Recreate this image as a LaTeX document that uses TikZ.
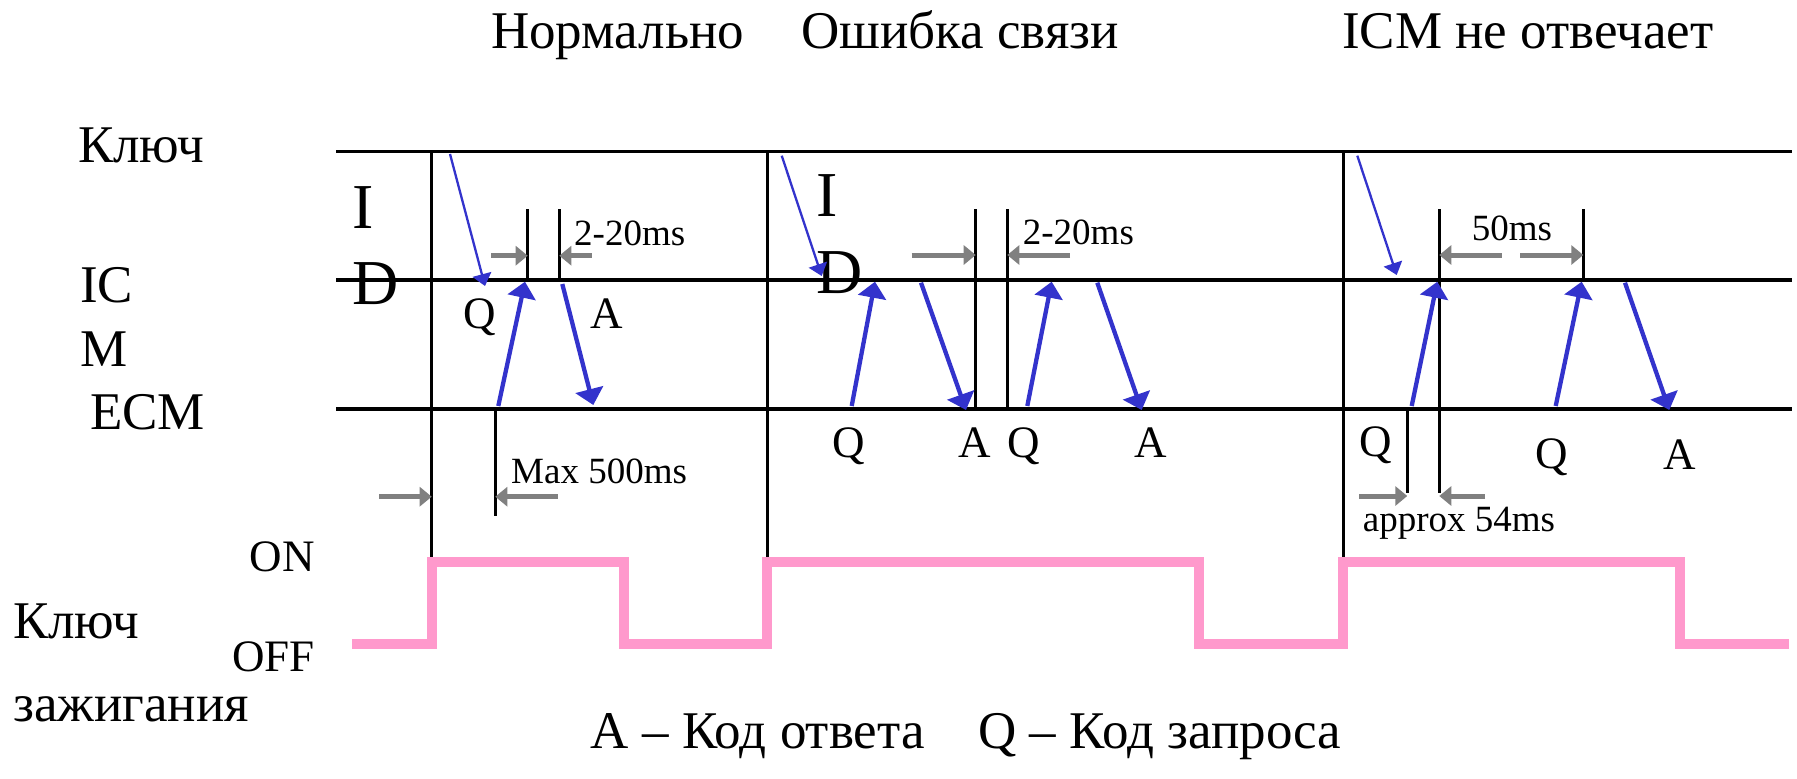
\documentclass[tikz,border=0pt]{standalone}
\usepackage{fontspec}
\setmainfont{Liberation Serif}
\usetikzlibrary{arrows.meta}
\definecolor{arrblue}{RGB}{51,51,204}
\definecolor{keypink}{RGB}{255,153,204}
\definecolor{dimgray}{RGB}{128,128,128}
\tikzset{
  gridline/.style={line width=3.2pt, black},
  tickline/.style={line width=2.7pt, black},
  thinarrow/.style={draw=arrblue, line width=2.3pt, -{Triangle[length=12pt,width=19pt,fill=arrblue]}},
  thickarrow/.style={draw=arrblue, line width=4.3pt, -{Triangle[length=16pt,width=28pt,fill=arrblue]}},
  dimarrow/.style={draw=dimgray, line width=5pt, -{Triangle[length=12pt,width=19pt,fill=dimgray]}},
  pinkwave/.style={draw=keypink, line width=10pt, line join=miter},
  lbl/.style={inner sep=0pt, font=\fontsize{53}{60}\selectfont},
  qa/.style={inner sep=0pt, font=\fontsize{45}{50}\selectfont},
  mslbl/.style={inner sep=0pt, font=\fontsize{37}{44}\selectfont},
  bigl/.style={inner sep=0pt, font=\fontsize{64}{70}\selectfont},
}
\begin{document}
\begin{tikzpicture}[x=1pt,y=-1pt]
\useasboundingbox[fill=white] (0,0) rectangle (1797,779);

% titles
\node[lbl,anchor=base west] (t1) at (491,48) {Нормально};
\node[lbl,anchor=base west] (t2) at (801,48) {Ошибка связи};
\node[lbl,anchor=base west] (t3) at (1342,48) {ICM не отвечает};

% left labels
\node[lbl,anchor=base west] (lk) at (78,162) {Ключ};
\node[lbl,anchor=base west] (lic) at (80,302.7) {IC};
\node[lbl,anchor=base west] (lm) at (80,366.7) {M};
\node[lbl,anchor=base west] (lecm) at (90,429.3) {ECM};
\node[qa,anchor=base east] (lon) at (315,571.7) {ON};
\node[qa,anchor=base east] (loff) at (315,671.7) {OFF};
\node[lbl,anchor=base west] (lk2) at (13,638.3) {Ключ};
\node[lbl,anchor=base west] (lzh) at (13,721.7) {зажигания};

% horizontal lanes
\coordinate (kL) at (336,151.7);  \coordinate (kR) at (1792,151.7);
\coordinate (iL) at (336,280);    \coordinate (iR) at (1792,280);
\coordinate (eL) at (336,409);    \coordinate (eR) at (1792,409);
\draw[gridline] (kL) -- (kR);
\draw[gridline] (iL) -- (iR);
\draw[gridline] (eL) -- (eR);

% section verticals
\coordinate (v1t) at (431.7,151.7); \coordinate (v1b) at (431.7,562.3);
\coordinate (v2t) at (767.3,151.7); \coordinate (v2b) at (767.3,562.3);
\coordinate (v3t) at (1343.3,151.7); \coordinate (v3b) at (1343.3,562.3);
\draw[gridline] (v1t) -- (v1b);
\draw[gridline] (v2t) -- (v2b);
\draw[gridline] (v3t) -- (v3b);

% I D letters
\node[bigl,anchor=base west] (id1i) at (352,228.3) {I};
\node[bigl,anchor=base west] (id1d) at (352,304) {D};
\node[bigl,anchor=base west] (id2i) at (816.7,216.7) {I};
\node[bigl,anchor=base west] (id2d) at (816,293.3) {D};

% ===== section 1 =====
\coordinate (s1a) at (527.7,209.3); \coordinate (s1a') at (527.7,280);
\coordinate (s1b) at (559.3,209.3); \coordinate (s1b') at (559.3,280);
\draw[tickline] (s1a) -- (s1a');
\draw[tickline] (s1b) -- (s1b');
\coordinate (s1m) at (495.3,409); \coordinate (s1m') at (495.3,516);
\draw[tickline] (s1m) -- (s1m');
\coordinate (g1s) at (491,255.7);   \coordinate (g1e) at (527.7,255.7);
\coordinate (g2s) at (591.7,255.7); \coordinate (g2e) at (559.3,255.7);
\coordinate (g3s) at (379,496.7);   \coordinate (g3e) at (431.7,496.7);
\coordinate (g4s) at (557.7,496.7); \coordinate (g4e) at (495.3,496.7);
\draw[dimarrow] (g1s) -- (g1e);
\draw[dimarrow] (g2s) -- (g2e);
\draw[dimarrow] (g3s) -- (g3e);
\draw[dimarrow] (g4s) -- (g4e);
\node[mslbl,anchor=base west] (ms1) at (574,245) {2-20ms};
\node[mslbl,anchor=base west] (mx1) at (511,483.3) {Max 500ms};
\coordinate (b1s) at (450,154);   \coordinate (b1e) at (485,286);
\coordinate (b2s) at (498.3,406); \coordinate (b2e) at (525,281.7);
\coordinate (b3s) at (562.3,284); \coordinate (b3e) at (593.3,405);
\draw[thinarrow] (b1s) -- (b1e);
\draw[thickarrow] (b2s) -- (b2e);
\draw[thickarrow] (b3s) -- (b3e);
\node[qa,anchor=base] (q1) at (480,328.3) {Q};
\node[qa,anchor=base] (a1) at (606.7,328.3) {A};

% ===== section 2 =====
\coordinate (s2a) at (975.7,209.3); \coordinate (s2a') at (975.7,409);
\coordinate (s2b) at (1007.3,209.3); \coordinate (s2b') at (1007.3,409);
\draw[tickline] (s2a) -- (s2a');
\draw[tickline] (s2b) -- (s2b');
\coordinate (g5s) at (911.7,255); \coordinate (g5e) at (975.7,255);
\coordinate (g6s) at (1070,255);  \coordinate (g6e) at (1007.3,255);
\draw[dimarrow] (g5s) -- (g5e);
\draw[dimarrow] (g6s) -- (g6e);
\node[mslbl,anchor=base west] (ms2) at (1022.7,244) {2-20ms};
\coordinate (c1s) at (781.7,155.7); \coordinate (c1e) at (821.7,276);
\coordinate (c2s) at (851.7,406);   \coordinate (c2e) at (875,281.7);
\coordinate (c3s) at (921,282.7);   \coordinate (c3e) at (966,410);
\coordinate (c4s) at (1027.3,406);  \coordinate (c4e) at (1051.7,281.7);
\coordinate (c5s) at (1097.3,282.7); \coordinate (c5e) at (1141.7,410);
\draw[thinarrow] (c1s) -- (c1e);
\draw[thickarrow] (c2s) -- (c2e);
\draw[thickarrow] (c3s) -- (c3e);
\draw[thickarrow] (c4s) -- (c4e);
\draw[thickarrow] (c5s) -- (c5e);
\node[qa,anchor=base] (q2) at (848.3,457) {Q};
\node[qa,anchor=base] (a2) at (975,457) {A};
\node[qa,anchor=base] (q3) at (1023.3,457) {Q};
\node[qa,anchor=base] (a3) at (1151,457) {A};

% ===== section 3 =====
\coordinate (s3a) at (1439.3,209.3); \coordinate (s3a') at (1439.3,492.7);
\coordinate (s3b) at (1583.3,209.3); \coordinate (s3b') at (1583.3,280);
\coordinate (s3c) at (1407.3,409);   \coordinate (s3c') at (1407.3,492.7);
\draw[tickline] (s3a) -- (s3a');
\draw[tickline] (s3b) -- (s3b');
\draw[tickline] (s3c) -- (s3c');
\coordinate (g7s) at (1501.7,255); \coordinate (g7e) at (1439.3,255);
\coordinate (g8s) at (1520,255);   \coordinate (g8e) at (1583.3,255);
\coordinate (g9s) at (1359.3,496); \coordinate (g9e) at (1407.3,496);
\coordinate (g10s) at (1485,496);  \coordinate (g10e) at (1439.3,496);
\draw[dimarrow] (g7s) -- (g7e);
\draw[dimarrow] (g8s) -- (g8e);
\draw[dimarrow] (g9s) -- (g9e);
\draw[dimarrow] (g10s) -- (g10e);
\node[mslbl,anchor=base west] (ms3) at (1471.7,240) {50ms};
\node[mslbl,anchor=base west] (ap3) at (1362.7,531.7) {approx 54ms};
\coordinate (d1s) at (1357.3,155.7); \coordinate (d1e) at (1396.7,275);
\coordinate (d2s) at (1411.7,406);   \coordinate (d2e) at (1437.3,281.7);
\coordinate (d3s) at (1555.7,406);   \coordinate (d3e) at (1581.7,281.7);
\coordinate (d4s) at (1625,282.7);   \coordinate (d4e) at (1669.3,410);
\draw[thinarrow] (d1s) -- (d1e);
\draw[thickarrow] (d2s) -- (d2e);
\draw[thickarrow] (d3s) -- (d3e);
\draw[thickarrow] (d4s) -- (d4e);
\node[qa,anchor=base] (q4) at (1376,456.7) {Q};
\node[qa,anchor=base] (q5) at (1551.7,468.3) {Q};
\node[qa,anchor=base] (a4) at (1680,469) {A};

% ignition key wave
\draw[pinkwave] (352,644.3) -- (431.7,644.3) -- (431.7,562.3) -- (624.3,562.3)
  -- (624.3,644.3) -- (767.3,644.3) -- (767.3,562.3) -- (1199,562.3)
  -- (1199,644.3) -- (1343.3,644.3) -- (1343.3,562.3) -- (1680,562.3)
  -- (1680,644.3) -- (1789,644.3);

% legend
\node[lbl,anchor=base west] (lgA) at (590.7,748.3) {A – Код ответа};
\node[lbl,anchor=base west] (lgQ) at (978,748.3) {Q – Код запроса};
\end{tikzpicture}
\end{document}
